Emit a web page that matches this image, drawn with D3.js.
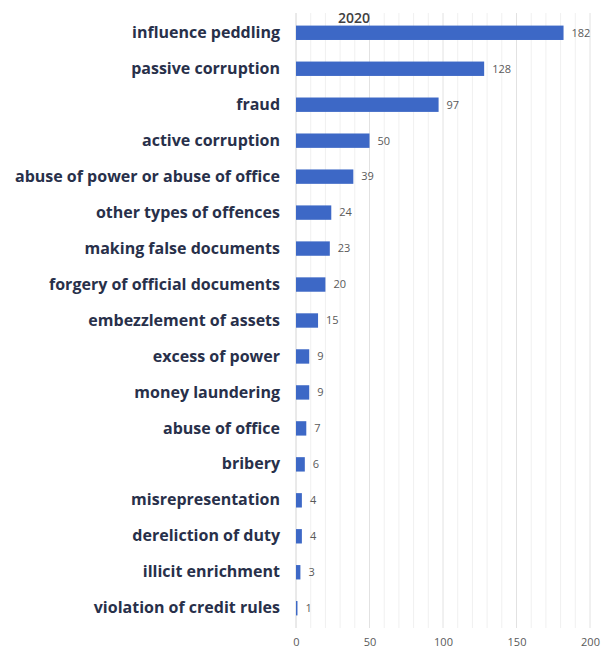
<!DOCTYPE html>
<meta charset="utf-8">
<script src="https://d3js.org/d3.v7.min.js"></script>
<style>
  body { margin: 0; background: #fff; }
</style>
<svg id="chart" width="601" height="651"></svg>
<script>

// Data
var categories = ["influence peddling", "passive corruption", "fraud", "active corruption",
  "abuse of power or abuse of office", "other types of offences", "making false documents",
  "forgery of official documents", "embezzlement of assets", "excess of power",
  "money laundering", "abuse of office", "bribery", "misrepresentation",
  "dereliction of duty", "illicit enrichment", "violation of credit rules"];
var values2020 = [182, 128, 97, 50, 39, 24, 23, 20, 15, 9, 9, 7, 6, 4, 4, 3, 1];
var xTicks = [0, 50, 100, 150, 200];
var seriesName = "2020";

var svg = d3.select("#chart");
var margin = {top: 13, left: 296, right: 11, bottom: 23};
var width = 601 - margin.left - margin.right,
    height = 651 - margin.top - margin.bottom;

var x = d3.scaleLinear().domain([0, 200]).range([0, width]);
var y = d3.scaleBand().domain(categories).range([0, height]).paddingInner(0.6).paddingOuter(0.35);

var g = svg.append("g").attr("transform", "translate(" + margin.left + "," + margin.top + ")");

// minor gridlines
g.append("g").selectAll("line")
  .data(d3.range(10, 200, 10).filter(function(d) { return d % 50 != 0; }))
  .enter().append("line")
    .attr("x1", function(d) { return x(d); })
    .attr("x2", function(d) { return x(d); })
    .attr("y1", 0).attr("y2", height)
    .attr("stroke", "#f0f0f0").attr("stroke-width", 1);

// major gridlines
g.append("g").selectAll("line")
  .data(xTicks)
  .enter().append("line")
    .attr("x1", function(d) { return x(d); })
    .attr("x2", function(d) { return x(d); })
    .attr("y1", 0).attr("y2", height)
    .attr("stroke", function(d) { return d == 0 ? "#d4d4d4" : "#e2e2e2"; })
    .attr("stroke-width", 1);

// x axis labels
var xAxis = g.append("g")
  .attr("transform", "translate(0," + height + ")")
  .call(d3.axisBottom(x).tickValues(xTicks).tickSize(0).tickPadding(10));
xAxis.select(".domain").remove();
xAxis.selectAll("text")
  .attr("fill", "#595959")
  .style("font-family", "'Open Sans', sans-serif")
  .style("font-size", "11px");

// category labels
var yAxis = g.append("g")
  .call(d3.axisLeft(y).tickSize(0).tickPadding(16));
yAxis.select(".domain").remove();
yAxis.selectAll("text")
  .attr("fill", "#28304a")
  .style("font-family", "'Open Sans', sans-serif")
  .style("font-weight", "bold")
  .style("font-size", "16px");

// bars
g.append("g").selectAll("rect")
  .data(values2020)
  .enter().append("rect")
    .attr("x", x(0))
    .attr("y", function(d, i) { return y(categories[i]); })
    .attr("width", function(d) { return x(d) - x(0); })
    .attr("height", y.bandwidth())
    .attr("fill", "#3d68c6");

// value labels
g.append("g").selectAll("text")
  .data(values2020)
  .enter().append("text")
    .attr("x", function(d) { return x(d) + 8; })
    .attr("y", function(d, i) { return y(categories[i]) + y.bandwidth() / 2; })
    .attr("dy", "0.35em")
    .attr("fill", "#595959")
    .style("font-family", "'Open Sans', sans-serif")
    .style("font-size", "11px")
    .text(function(d) { return d; });

// series title
svg.append("text")
  .attr("x", 354)
  .attr("y", 23)
  .attr("text-anchor", "middle")
  .attr("fill", "#404040")
  .style("font-family", "'Open Sans', sans-serif")
  .style("font-weight", "600")
  .style("font-size", "14px")
  .text(seriesName);

</script>
